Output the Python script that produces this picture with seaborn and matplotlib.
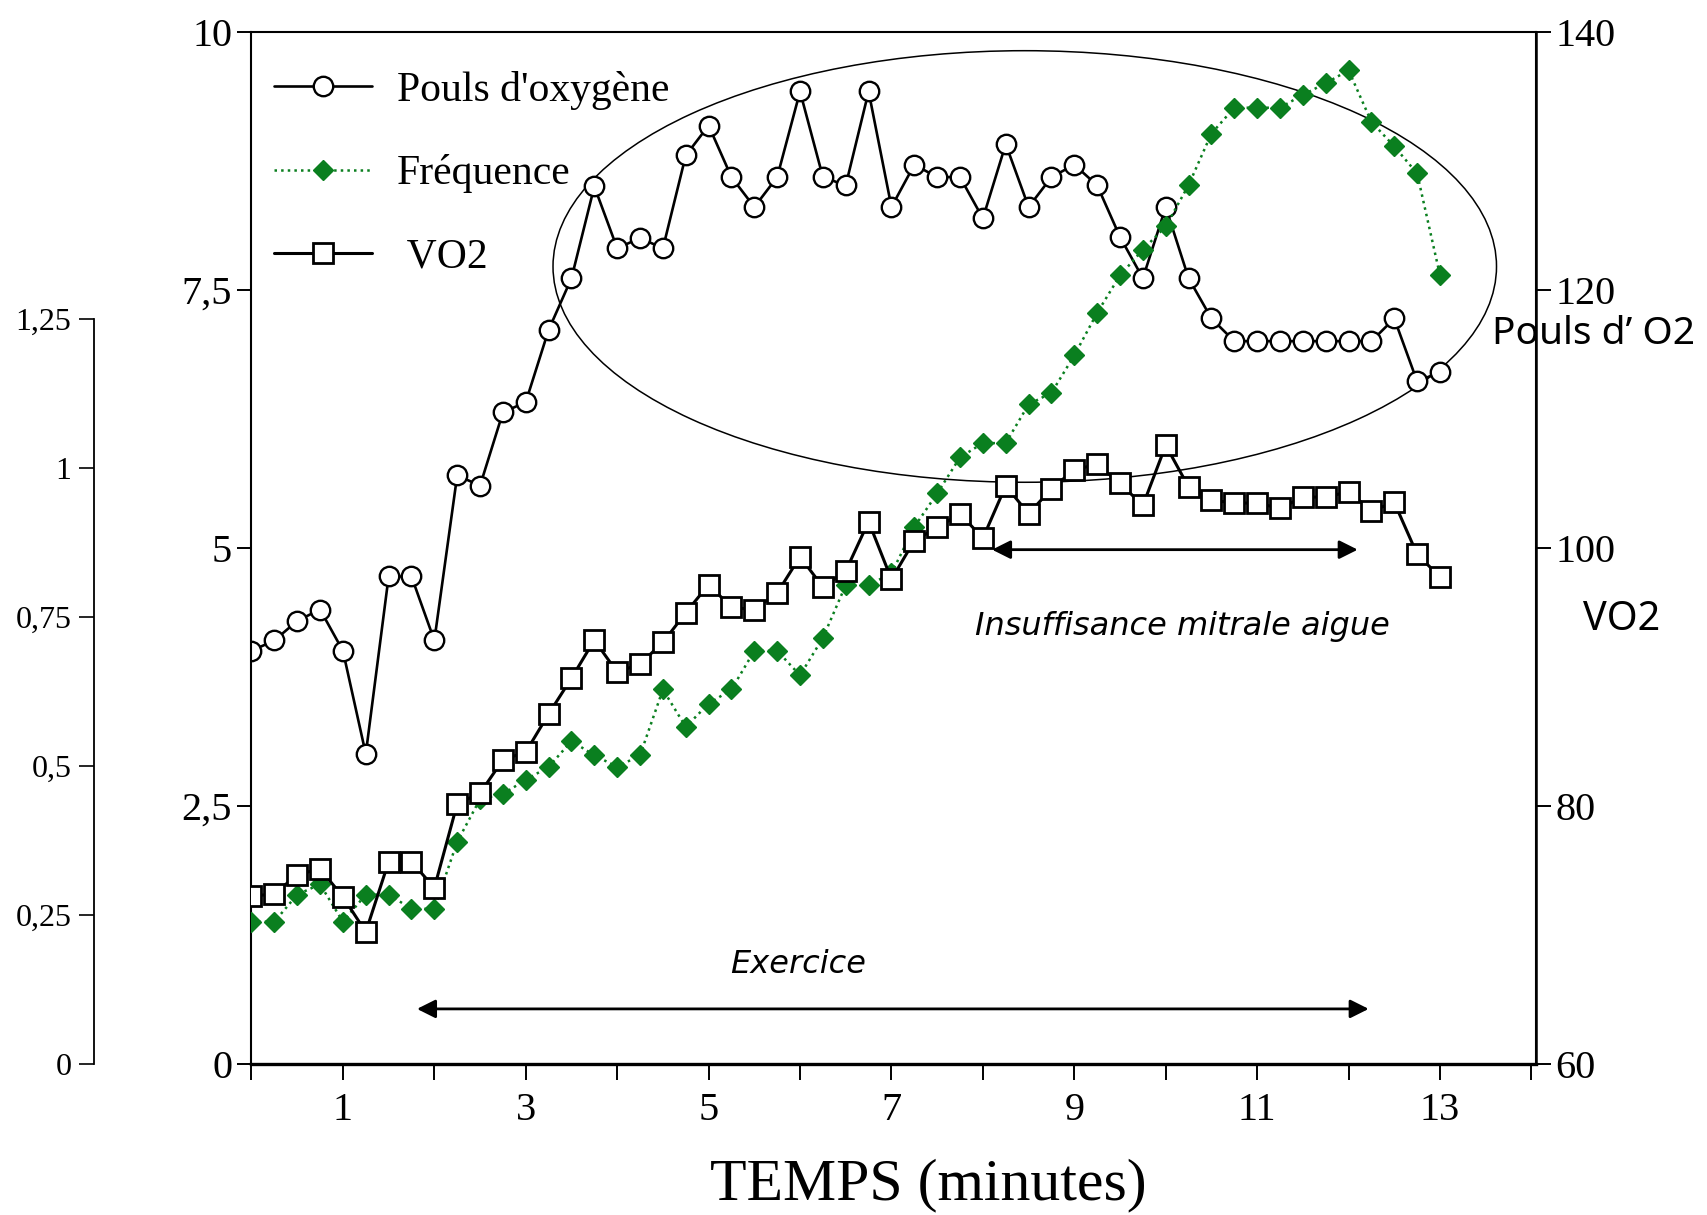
import numpy as np
import pandas as pd
import matplotlib
matplotlib.use("Agg")
import matplotlib.pyplot as plt
import seaborn as sns
from matplotlib.patches import Ellipse

# ---------------- data ----------------
temps = np.arange(0, 13.01, 0.25)

pouls_o2 = [4.00, 4.10, 4.29, 4.40, 4.00, 3.00, 4.72, 4.72, 4.10, 5.70,
            5.60, 6.31, 6.41, 7.11, 7.61, 8.50, 7.90, 8.00, 7.90, 8.80,
            9.09, 8.59, 8.30, 8.59, 9.42, 8.59, 8.51, 9.42, 8.30, 8.71,
            8.59, 8.59, 8.19, 8.91, 8.30, 8.59, 8.71, 8.51, 8.01, 7.61,
            8.30, 7.61, 7.22, 7.00, 7.00, 7.00, 7.00, 7.00, 7.00, 7.00,
            7.22, 6.61, 6.70]

frequence = [71.0, 71.0, 73.1, 73.9, 71.0, 73.1, 73.1, 72.0, 72.0, 77.2,
             80.5, 80.9, 82.0, 83.0, 85.0, 83.9, 83.0, 83.9, 89.0, 86.1,
             87.9, 89.0, 92.0, 92.0, 90.1, 93.0, 97.1, 97.1, 98.0, 101.6,
             104.2, 107.0, 108.1, 108.1, 111.1, 112.0, 114.9, 118.2, 121.1, 123.1,
             124.9, 128.1, 132.1, 134.1, 134.1, 134.1, 135.1, 136.0, 137.0, 133.0,
             131.1, 129.0, 121.1]

vo2 = [0.281, 0.285, 0.317, 0.327, 0.280, 0.221, 0.339, 0.339, 0.295, 0.436,
       0.454, 0.510, 0.523, 0.587, 0.647, 0.711, 0.657, 0.671, 0.707, 0.757,
       0.804, 0.766, 0.762, 0.790, 0.851, 0.800, 0.827, 0.910, 0.813, 0.878,
       0.900, 0.923, 0.882, 0.970, 0.923, 0.965, 0.997, 1.006, 0.974, 0.937,
       1.038, 0.968, 0.946, 0.941, 0.941, 0.932, 0.951, 0.951, 0.960, 0.928,
       0.942, 0.855, 0.817]

x_ticks = list(range(0, 15))
x_ticklabels = ["" if (t % 2 == 0) else str(t) for t in x_ticks]
y_ticks = [0, 2.5, 5, 7.5, 10]
y_ticklabels = ["0", "2,5", "5", "7,5", "10"]
r_ticks = [60, 80, 100, 120, 140]
r_ticklabels = ["60", "80", "100", "120", "140"]
v_ticks = [0, 0.25, 0.5, 0.75, 1.0, 1.25]
v_ticklabels = ["0", "0,25", "0,5", "0,75", "1", "1,25"]

df = pd.DataFrame({"temps": temps, "pouls": pouls_o2,
                   "frequence": frequence, "vo2": vo2})

# ---------------- style ----------------
sns.set_style("ticks")
plt.rcParams["font.family"] = ["Liberation Serif", "DejaVu Serif"]
plt.rcParams["text.color"] = "black"
plt.rcParams["axes.labelcolor"] = "black"
plt.rcParams["xtick.color"] = "black"
plt.rcParams["ytick.color"] = "black"

W, H = 1707, 1215
fig = plt.figure(figsize=(W / 100, H / 100), dpi=100)

x0, x1 = 251.5, 1536.0
y0, y1 = 1063.6, 31.6
ax = fig.add_axes([x0 / W, 1 - y0 / H, (x1 - x0) / W, (y0 - y1) / H])
ax2 = ax.twinx()
ax3 = ax.twinx()

green = "#0a7f1f"
serif = ["Liberation Serif", "DejaVu Serif"]

# Pouls d'oxygène (main axis)
sns.lineplot(data=df, x="temps", y="pouls", ax=ax, color="black",
             linewidth=1.9, marker="o", markersize=14,
             markerfacecolor="white", markeredgecolor="black",
             markeredgewidth=1.7, estimator=None, label="Pouls d'oxygène",
             legend=False)

# Fréquence (right axis)
sns.lineplot(data=df, x="temps", y="frequence", ax=ax2, color=green,
             linewidth=1.8, linestyle=":", marker="D", markersize=9.8,
             markerfacecolor=green, markeredgecolor=green,
             markeredgewidth=1.0, estimator=None, label="Fréquence",
             legend=False)

# VO2 (far-left axis)
sns.lineplot(data=df, x="temps", y="vo2", ax=ax3, color="black",
             linewidth=2.2, marker="s", markersize=15,
             markerfacecolor="white", markeredgecolor="black",
             markeredgewidth=2.0, estimator=None, label=" VO2",
             legend=False)

# ---------------- axes ----------------
ax.set_xlim(0, 14.05)
ax.set_ylim(0, 10)
ax2.set_ylim(60, 140)
vo2_top = 1.25 * 10 / ((y0 - 319.0) / ((y0 - y1) / 10))
ax3.set_ylim(0, vo2_top)

ax3.yaxis.set_ticks_position("left")
ax3.yaxis.set_label_position("left")

ax.set_xticks(x_ticks)
ax.set_xticklabels(x_ticklabels, fontsize=29, family=serif)
ax.set_yticks(y_ticks)
ax.set_yticklabels(y_ticklabels, fontsize=29, family=serif)
ax2.set_yticks(r_ticks)
ax2.set_yticklabels(r_ticklabels, fontsize=29, family=serif)
ax3.set_yticks(v_ticks)
ax3.set_yticklabels(v_ticklabels, fontsize=23, family=serif)

ax.tick_params(axis="x", direction="out", length=11.5, width=1.4, pad=9, colors="black")
ax.tick_params(axis="y", direction="out", length=10, width=1.4, pad=4, colors="black")
ax2.tick_params(axis="y", direction="out", length=11, width=1.4, pad=3, colors="black")
ax3.tick_params(axis="y", which="both", left=True, labelleft=True, right=False,
                labelright=False, direction="out", length=11, width=1.2,
                pad=5, colors="black", labelsize=23)

for a in (ax, ax2, ax3):
    a.set_xlabel("")
    a.set_ylabel("")

for s in ("left", "top", "right"):
    ax.spines[s].set_visible(True)
    ax.spines[s].set_linewidth(1.5)
    ax.spines[s].set_color("black")
ax.spines["bottom"].set_linewidth(2.4)
ax.spines["bottom"].set_color("black")

ax2.spines["left"].set_visible(False)
ax2.spines["top"].set_visible(False)
ax2.spines["bottom"].set_visible(False)
ax2.spines["right"].set_visible(True)
ax2.spines["right"].set_linewidth(1.8)
ax2.spines["right"].set_color("black")

ax3.spines["right"].set_visible(False)
ax3.spines["top"].set_visible(False)
ax3.spines["bottom"].set_visible(False)
ax3.spines["left"].set_visible(True)
ax3.spines["left"].set_position(("outward", (x0 - 93.6) * 72 / 100))
ax3.spines["left"].set_bounds(0, 1.25)
ax3.spines["left"].set_linewidth(1.3)
ax3.spines["left"].set_color("black")

ax.set_xlabel("TEMPS (minutes)", fontsize=43, family=serif, color="black")
ax.xaxis.set_label_coords(0.527, -0.092)

# ---------------- annotations ----------------
ell = Ellipse((8.458, 7.724), 10.32, 4.182, fill=False, edgecolor="black",
              linewidth=1.1, zorder=1)
ax.add_patch(ell)

arrow_kw = dict(arrowstyle="<|-|>", color="black", lw=2.0,
                mutation_scale=28, shrinkA=0, shrinkB=0)
ax.annotate("", xy=(12.22, 0.53), xytext=(1.81, 0.53), arrowprops=arrow_kw)
ax.annotate("", xy=(12.10, 4.98), xytext=(8.10, 4.98), arrowprops=arrow_kw)

ax.text(5.976, 0.96, "Exercice", fontsize=23, style="italic",
        family=["DejaVu Sans"], ha="center", va="center", color="black")
ax.text(10.18, 4.24, "Insuffisance mitrale aigue", fontsize=23,
        style="italic", family=["DejaVu Sans"], ha="center", va="center",
        color="black")

fig.text(1593.7 / W, 1 - 334.0 / H, "Pouls d\u2019 O2", fontsize=28,
         family=["Noto Sans", "DejaVu Sans"], ha="center", va="center",
         color="black")
fig.text(1622 / W, 1 - 620.5 / H, "VO2", fontsize=28.5,
         family=["Noto Sans", "DejaVu Sans"], ha="center", va="center",
         color="black")

# ---------------- legend ----------------
handles = [ax.get_lines()[0], ax2.get_lines()[0], ax3.get_lines()[0]]
labels = ["Pouls d'oxygène", "Fréquence", " VO2"]
leg = ax3.legend(handles, labels, loc="upper left",
                 bbox_to_anchor=(0.0175, 0.962), frameon=False,
                 prop={"family": serif, "size": 30}, handlelength=2.35,
                 handletextpad=0.6, labelspacing=1.07, borderaxespad=0,
                 borderpad=0, numpoints=1)
for t in leg.get_texts():
    t.set_color("black")

fig.savefig("out.png", dpi=100)
